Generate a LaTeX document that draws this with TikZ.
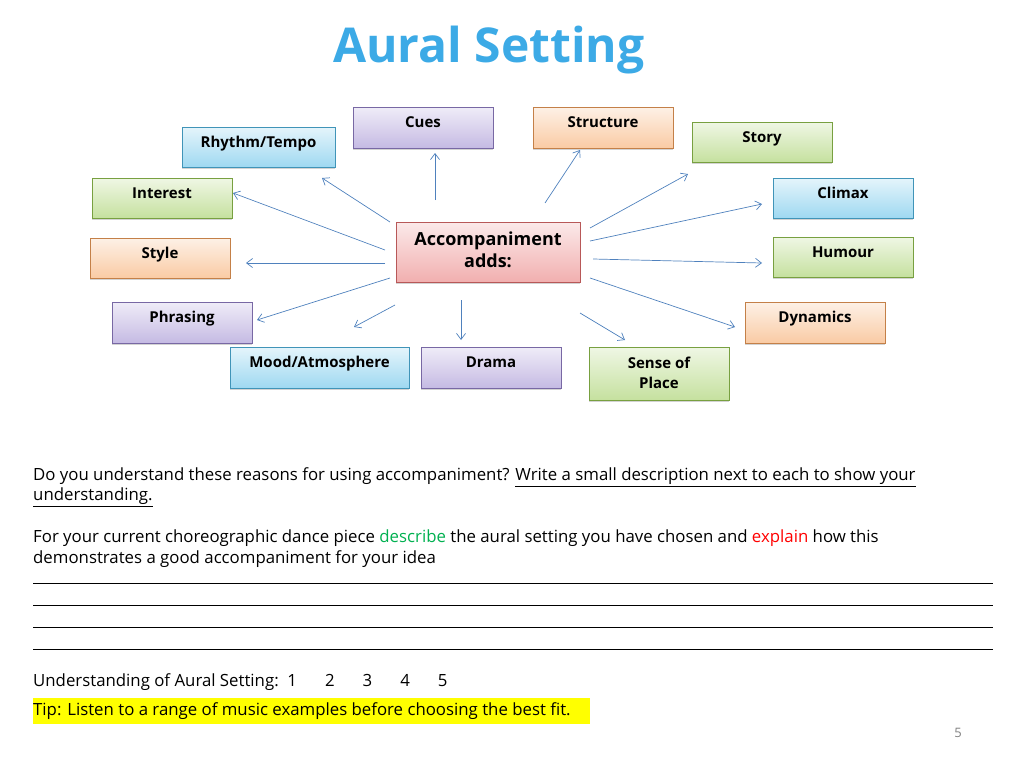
\documentclass[tikz,border=0pt]{standalone}
\usepackage{fontspec}
\setmainfont{Open Sans}
\usetikzlibrary{arrows.meta,shadows}
\definecolor{arr}{RGB}{79,129,189}
\definecolor{ttl}{RGB}{60,170,230}
\definecolor{hl}{RGB}{255,255,0}
\definecolor{grn}{RGB}{0,176,80}
\definecolor{cpu}{RGB}{150,130,205}
\definecolor{cor}{RGB}{245,160,90}
\definecolor{cbl}{RGB}{80,185,230}
\definecolor{cgr}{RGB}{150,200,80}
\definecolor{cre}{RGB}{230,110,110}
\tikzset{
 bx/.style={draw=#1!80!black, line width=0.8pt, top color=#1!15!white, bottom color=#1!55!white, drop shadow={shadow xshift=0pt,shadow yshift=-2pt,opacity=0.35}},
 lb/.style={anchor=north, font=\fontsize{15}{20}\selectfont\bfseries, align=center},
 ar/.style={draw=arr, line width=0.7pt, -{Straight Barb[length=6pt,width=9pt]}},
 tx/.style={anchor=west, font=\fontsize{16.8}{21}\selectfont, inner sep=0pt}
}
\begin{document}
\begin{tikzpicture}[x=1pt,y=-1pt]
\useasboundingbox (0,0) rectangle (1024,768);
\node[font=\fontsize{48}{52}\selectfont\bfseries, text=ttl] (title) at (489,50) {Aural Setting};
\def\B#1#2#3#4#5#6#7{\path[bx=#6] (#2,#3) rectangle (#4,#5); \node[lb] (#1) at ({(#2+#4)/2},#3+6) {#7};}
\B{cues}{353}{107}{493}{148}{cpu}{Cues}
\B{struct}{533}{107}{673}{148}{cor}{Structure}
\B{rhythm}{182}{127}{335}{167}{cbl}{Rhythm/Tempo}
\B{story}{692}{122}{832}{162}{cgr}{Story}
\B{interest}{92}{178}{232}{218}{cgr}{Interest}
\B{climax}{773}{178}{913}{218}{cbl}{Climax}
\B{style}{90}{238}{230}{278}{cor}{Style}
\B{humour}{773}{237}{913}{277}{cgr}{Humour}
\B{phrasing}{112}{302}{252}{343}{cpu}{Phrasing}
\B{dyn}{745}{302}{885}{343}{cor}{Dynamics}
\B{mood}{230}{347}{409}{388}{cbl}{Mood/Atmosphere}
\B{drama}{421}{347}{561}{388}{cpu}{Drama}
\B{sense}{589}{347}{729}{400}{cgr}{Sense of\\Place}
\path[bx=cre] (396,222) rectangle (580,282);
\node[lb,font=\fontsize{18}{22}\selectfont\bfseries] (acc) at (488,228) {Accompaniment\\adds:};
\foreach \a/\b/\c/\d in {390/222/322/178, 435/200/435/153, 545/203/580/150, 590/228/688/174, 590/241/762/204, 593/259/762/263, 590/278/735/327, 580/313/625/340, 461/300/461/340, 395/305/354/327, 390/278/257/320, 385/263/246/263, 385/250/233/193}
  {\coordinate (s) at (\a,\b); \coordinate (e) at (\c,\d); \draw[ar] (s) -- (e);}
\node[tx] (q1) at (33,477) {Do you understand these reasons for using accompaniment? \underline{Write a small description next to each to show your}};
\node[tx] (q2) at (33,497) {\underline{understanding.}};
\node[tx] (p1) at (33,538) {For your current choreographic dance piece \textcolor{grn}{describe} the aural setting you have chosen and \textcolor{red}{explain} how this};
\node[tx] (p2) at (33,559) {demonstrates a good accompaniment for your idea};
\foreach \y in {583,605,627,649} \draw[line width=0.6pt] (33,\y) -- (993,\y);
\node[tx] (u) at (33,682) {Understanding of Aural Setting:\ \ 1\hspace{28pt}2\hspace{28pt}3\hspace{28pt}4\hspace{28pt}5};
\fill[hl] (33,698) rectangle (590,724);
\node[tx] (tip) at (33,711) {Tip: Listen to a range of music examples before choosing the best fit.};
\node[font=\fontsize{13}{15}\selectfont, text=gray] (pg) at (958,733) {5};
\end{tikzpicture}
\end{document}
